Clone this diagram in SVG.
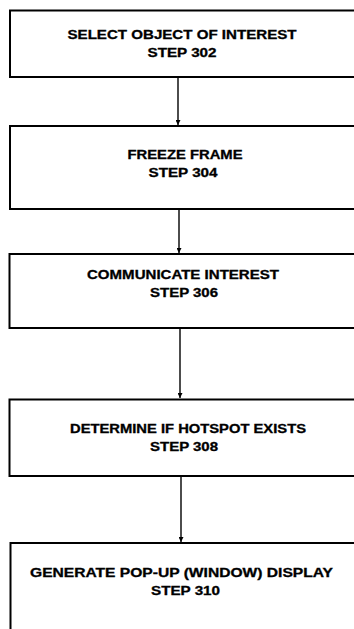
<svg xmlns="http://www.w3.org/2000/svg" width="354" height="629" viewBox="0 0 354 629">
<style>
.box{fill:#fff;stroke:#000;stroke-width:2}
.t{font-family:"Liberation Sans",Arial,sans-serif;font-weight:bold;font-size:12px;fill:#000;stroke:#000;stroke-width:0.3;text-anchor:middle}
.c{stroke:#000;stroke-width:1.4;fill:none}
</style>
<defs>
<marker id="ah" viewBox="0 0 10 10" refX="10" refY="5" markerWidth="5" markerHeight="5" markerUnits="userSpaceOnUse" orient="auto">
<path d="M0,0 L10,5 L0,10 z" fill="#000"/>
</marker>
</defs>
<rect width="354" height="629" fill="#fff"/>
<g id="connectors">
<line class="c" x1="178" y1="77" x2="178" y2="125" marker-end="url(#ah)"/>
<line class="c" x1="179" y1="209" x2="179" y2="253" marker-end="url(#ah)"/>
<line class="c" x1="180" y1="328" x2="180" y2="398" marker-end="url(#ah)"/>
<line class="c" x1="181" y1="476" x2="181" y2="542" marker-end="url(#ah)"/>
</g>
<g id="step302">
<rect class="box" x="10" y="10.5" width="360" height="66.5"/>
<text class="t" x="182" y="39" textLength="229" lengthAdjust="spacingAndGlyphs">SELECT OBJECT OF INTEREST</text>
<text class="t" x="182" y="57" textLength="69" lengthAdjust="spacingAndGlyphs">STEP 302</text>
</g>
<g id="step304">
<rect class="box" x="10" y="126" width="360" height="83"/>
<text class="t" x="185" y="159" textLength="115" lengthAdjust="spacingAndGlyphs">FREEZE FRAME</text>
<text class="t" x="183" y="177" textLength="69" lengthAdjust="spacingAndGlyphs">STEP 304</text>
</g>
<g id="step306">
<rect class="box" x="9.5" y="254" width="360" height="74"/>
<text class="t" x="183" y="279" textLength="192" lengthAdjust="spacingAndGlyphs">COMMUNICATE INTEREST</text>
<text class="t" x="184" y="297" textLength="68" lengthAdjust="spacingAndGlyphs">STEP 306</text>
</g>
<g id="step308">
<rect class="box" x="9.5" y="399.5" width="360" height="76.5"/>
<text class="t" x="188" y="433" textLength="236" lengthAdjust="spacingAndGlyphs">DETERMINE IF HOTSPOT EXISTS</text>
<text class="t" x="184" y="451" textLength="68" lengthAdjust="spacingAndGlyphs">STEP 308</text>
</g>
<g id="step310">
<rect class="box" x="10.5" y="543" width="360" height="100"/>
<text class="t" x="181.5" y="576.5" textLength="303" lengthAdjust="spacingAndGlyphs">GENERATE POP-UP (WINDOW) DISPLAY</text>
<text class="t" x="185.5" y="594.5" textLength="69" lengthAdjust="spacingAndGlyphs">STEP 310</text>
</g>
</svg>
